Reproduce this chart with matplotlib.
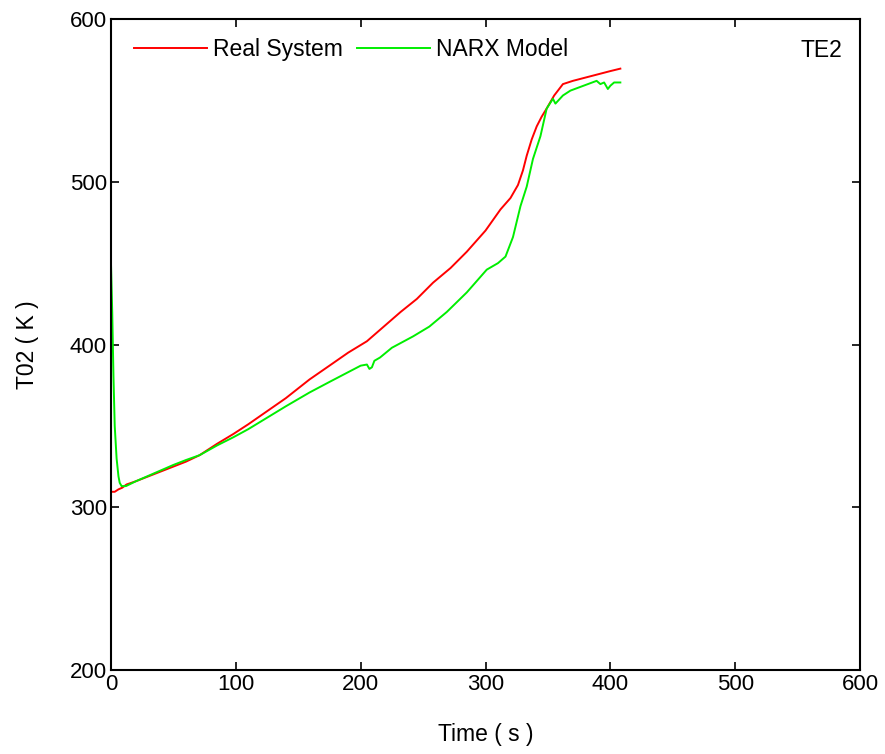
import matplotlib
matplotlib.use("Agg")
import matplotlib.pyplot as plt

plt.rcParams['font.family'] = ['Liberation Sans', 'DejaVu Sans']

# Real System (red)
t_real = [0, 3, 6, 9, 12.5, 20, 30, 40, 50, 60, 71, 85, 98, 110, 125, 140, 159, 175, 190,
          205, 220, 232, 245, 258, 272, 285, 300, 312, 320, 326, 330, 333, 337, 341, 345,
          349, 355, 362, 370, 380, 390, 400, 408]
y_real = [309.5, 309.5, 311, 312, 314, 316, 319, 322, 325, 328, 332, 339, 345, 351, 359,
          367, 378.5, 387, 395, 402, 412, 420, 428, 438, 447, 457, 470, 483, 490, 498, 507,
          516, 526, 534, 540, 545, 553, 560, 562, 564, 566, 568, 569.5]

# NARX Model (green)
t_narx = [0, 1, 2, 3, 4.5, 6, 7, 8.5, 12, 20, 35, 50, 60, 71, 85, 98, 110, 125, 140, 159,
          175, 190, 200, 205, 207, 209, 211, 215.5, 225, 242, 255, 269, 285, 301, 310, 316,
          322, 328, 333, 338, 344, 349, 354, 356, 362, 368, 375, 382, 389, 392, 395, 398,
          400, 403, 408]
y_narx = [450, 420, 380, 350, 330, 319, 315, 313, 313, 316, 321, 326, 329, 332, 338,
          343, 348, 355, 362, 370.5, 377, 383, 387, 387.7, 385, 386, 390, 392, 398, 405,
          411, 420, 432, 446, 450, 454, 466, 485, 497, 514, 528, 545, 551, 548, 553, 556,
          558, 560, 562, 560, 561, 557, 559, 561, 561]

fig = plt.figure(figsize=(8.85, 7.54), dpi=100)
ax = fig.add_axes([0.1254, 0.1114, 0.8464, 0.8634])

ax.plot(t_real, y_real, color='#ff0000', lw=1.4, label='Real System')
ax.plot(t_narx, y_narx, color='#00ee00', lw=1.4, label='NARX Model')

ax.set_xlim(0, 600)
ax.set_ylim(200, 600)
ax.set_xticks([0, 100, 200, 300, 400, 500, 600])
ax.set_yticks([200, 300, 400, 500, 600])
ax.tick_params(direction='in', top=True, right=True, labelsize=16, length=6, width=1.2, pad=3)
for s in ax.spines.values():
    s.set_linewidth(1.5)

ax.set_xlabel('Time ( s )', fontsize=16.5, labelpad=20)
ax.set_ylabel('T02 ( K )', fontsize=16.5, labelpad=22)

ax.legend(loc='center left', ncol=2, frameon=False, fontsize=16.5,
          handlelength=3.17, handletextpad=0.26, columnspacing=0.65,
          borderpad=0, borderaxespad=0,
          bbox_to_anchor=(0.0307, 0.9538))
ax.text(0.976, 0.951, 'TE2', transform=ax.transAxes, ha='right', va='center', fontsize=16.5)

fig.savefig('out.png', dpi=100)
